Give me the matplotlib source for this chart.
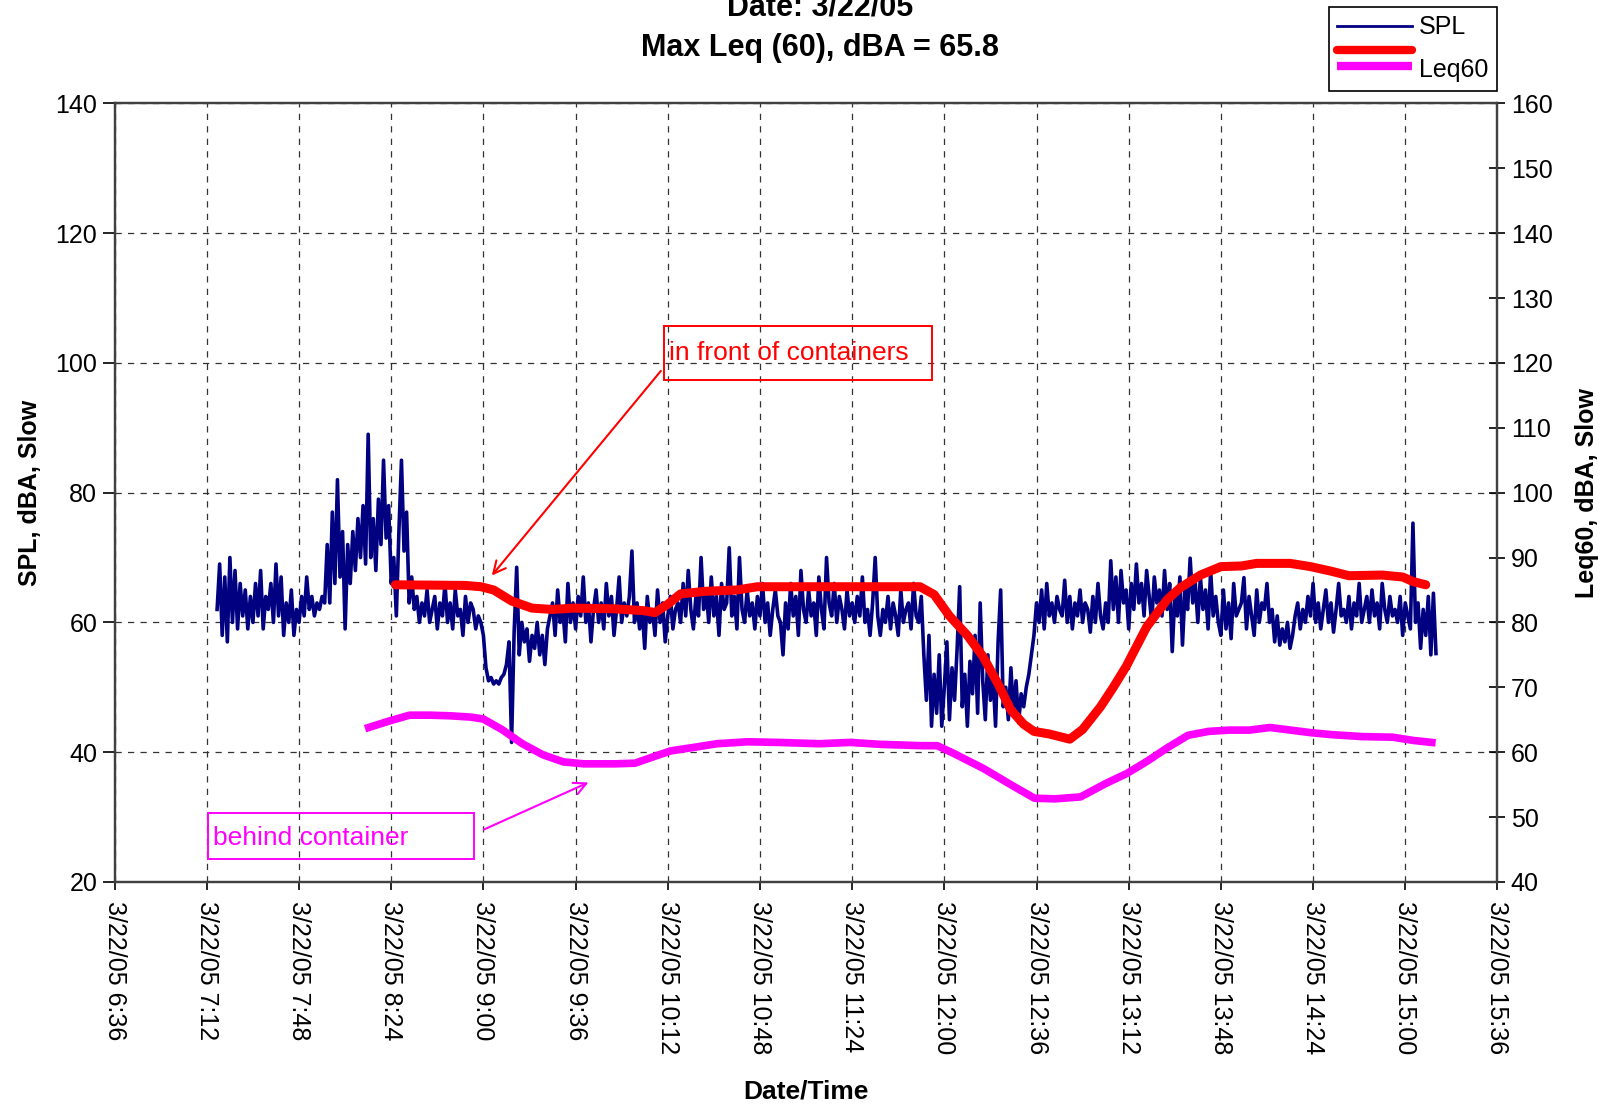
import numpy as np
import matplotlib
matplotlib.use('Agg')
import matplotlib.pyplot as plt
from matplotlib.lines import Line2D
from matplotlib.patches import Rectangle
from matplotlib.legend_handler import HandlerBase

plt.rcParams['font.family'] = ['Liberation Sans', 'DejaVu Sans']

# time axis: minutes after 6:36 on 3/22/05
tick_labels = ['3/22/05 6:36', '3/22/05 7:12', '3/22/05 7:48', '3/22/05 8:24',
               '3/22/05 9:00', '3/22/05 9:36', '3/22/05 10:12', '3/22/05 10:48',
               '3/22/05 11:24', '3/22/05 12:00', '3/22/05 12:36', '3/22/05 13:12',
               '3/22/05 13:48', '3/22/05 14:24', '3/22/05 15:00', '3/22/05 15:36']
tick_minutes = [36 * i for i in range(len(tick_labels))]

# SPL, one reading per minute starting at minute 40 (7:16)
spl_start = 40
spl = [
    62, 69, 58, 67, 57, 70, 60, 68, 59, 66,
    61, 65, 59, 64, 60, 66, 61, 68, 59, 64,
    62, 66, 60, 69, 61, 67, 58, 63, 60, 65,
    58, 62, 60, 64, 61, 67, 62, 64, 61, 63,
    62, 64, 63, 72, 63, 77, 66, 82, 67, 74,
    59, 72, 66, 74, 68, 76, 70, 78, 69, 89,
    70, 76, 68, 79, 72, 85, 73, 78, 66, 70,
    61, 74, 85, 71, 77, 63, 67, 62, 64, 60,
    63, 61, 65, 60, 62, 64, 59, 63, 61, 66,
    60, 63, 59, 65, 61, 62, 58, 64, 60, 63,
    62, 59, 61, 60, 58, 53, 51, 51.5, 50.5, 51,
    50.5, 51.5, 52, 53.5, 57, 41.5, 58.5, 68.5, 55, 60,
    57, 59, 54, 58, 56, 60, 55, 58, 53.5, 59,
    61, 63, 58, 65, 60, 62, 57, 66, 60, 63,
    59, 64, 61, 67, 60, 63, 57, 62, 65, 60,
    63, 59, 66, 61, 64, 58, 62, 67, 60, 63,
    61, 64, 71, 60, 63, 59, 62, 56, 64, 60,
    62, 58, 65, 60, 63, 57, 61, 64, 59, 62,
    63, 60, 66, 61, 68, 62, 59, 64, 61, 70,
    62, 65, 60, 67, 61, 64, 58, 66, 62, 63,
    71.5, 61, 64, 59, 70, 62, 60, 65, 61, 63,
    59, 64, 61, 66, 60, 63, 58, 62, 65, 61,
    60, 55, 63, 59, 66, 61, 64, 58, 68, 62,
    60, 65, 61, 63, 58, 67, 62, 59, 70, 63,
    61, 66, 60, 64, 62, 59, 65, 61, 63, 60,
    64, 61, 67, 60, 62, 58, 63, 70, 61, 58,
    62, 60, 64, 59, 63, 61, 58, 65, 60, 62,
    63, 59, 66, 61, 60, 64, 55, 48, 58, 44,
    52, 46, 55, 44, 50, 57, 45, 53, 48, 56,
    65.5, 47, 52, 44, 54, 49, 58, 46, 63, 51,
    45, 55, 48, 52, 44, 57, 65, 47, 50, 45,
    53, 46, 51, 44.5, 49, 47, 50, 52, 55, 58,
    63, 60, 65, 59, 66, 61, 63, 60, 64, 62,
    61, 66.5, 60, 64, 59, 63, 61, 65, 60, 63,
    62, 58.5, 64, 60, 66, 61, 59, 63, 60, 69.5,
    62, 67, 60, 68, 63, 65, 59, 66, 62, 69,
    63, 66, 61, 68, 64, 60, 67, 63, 65, 61,
    68, 62, 66, 55.5, 64, 61, 67, 56.5, 65, 62,
    69.9, 63, 66, 60, 67, 62, 65, 59, 68, 61,
    64, 60, 58, 65, 59, 63, 57.5, 66, 61, 62,
    63, 66.9, 59, 64, 61, 58, 65, 60, 63, 62,
    66, 60, 62, 57, 61, 56.5, 59, 57, 60, 56,
    58, 61, 63, 59, 62, 60, 64, 61, 66, 60,
    63, 59, 62, 65, 60, 63, 58.5, 62, 66, 61,
    62, 60, 64, 59, 63, 61, 66, 60, 62, 64,
    60, 65, 61, 63, 59, 66, 62, 60, 64, 61,
    62, 60, 64, 58, 63, 61, 59, 75.3, 60, 63,
    56, 62, 58, 64, 55, 64.5, 55.2,
]
spl_t = spl_start + np.arange(len(spl))

# red curve (left axis)
red_t = [109.6, 137, 143, 148, 155, 163, 171, 179, 195, 207, 211, 216, 221, 231,
         243, 251, 275, 314.5, 320, 326, 333, 339, 345, 350, 355, 359, 365, 373,
         378, 385, 390, 395, 403, 411, 416, 424, 432, 440, 446, 459, 467, 475,
         482, 495, 503, 507, 512]
red_v = [65.8, 65.7, 65.5, 65.0, 63.3, 62.2, 62.0, 62.2, 62.1, 61.8, 61.5, 62.8, 64.4, 64.8,
         65.0, 65.5, 65.5, 65.5, 64.3, 61.0, 58.0, 54.8, 50.5, 46.5, 44.3, 43.2, 42.8, 42.0,
         43.5, 47.0, 50.0, 53.2, 59.3, 63.5, 65.3, 67.3, 68.6, 68.7, 69.1, 69.1, 68.6, 67.9,
         67.2, 67.3, 67.0, 66.3, 65.8]

# Leq60 (right axis)
leq_t = [99.2, 107.2, 115.2, 123.2, 131.2, 139.2, 144, 151.2, 159.2, 167.2, 175.2, 183.2,
         195.2, 203.2, 211.2, 217.2, 227.2, 235.2, 247.2, 259.2, 275.2, 287.2, 299.2, 315.2,
         321.2, 327.2, 339.2, 351.2, 359.2, 367.2, 377.2, 387.2, 395.2, 403.2, 411.2, 419.2,
         427.2, 435.2, 443.2, 451.2, 459.2, 467.2, 475.2, 487.2, 499.2, 507.2, 514.4]
leq_v = [63.8, 64.8, 65.7, 65.7, 65.6, 65.4, 65.1, 63.5, 61.3, 59.6, 58.5, 58.2,
         58.2, 58.3, 59.4, 60.2, 60.8, 61.3, 61.6, 61.5, 61.3, 61.5, 61.2, 61.0,
         61.0, 59.9, 57.5, 54.7, 52.9, 52.8, 53.1, 55.2, 56.7, 58.6, 60.7, 62.6,
         63.2, 63.4, 63.4, 63.8, 63.4, 63.0, 62.7, 62.4, 62.3, 61.8, 61.5]


class StackedLines(HandlerBase):
    # red and magenta keys drawn one above the other in a single legend row
    def create_artists(self, legend, orig_handle, xdescent, ydescent,
                       width, height, fontsize, trans):
        y0 = (height - ydescent) / 2.0
        out = []
        for ln, dy in zip(orig_handle, (0.75, 0.1)):
            a = Line2D([-xdescent, -xdescent + width], [y0 + dy * fontsize] * 2,
                       color=ln.get_color(), lw=ln.get_linewidth(),
                       solid_capstyle=ln.get_solid_capstyle())
            a.set_transform(trans)
            out.append(a)
        return out


fig = plt.figure(figsize=(16.06, 11.05), dpi=100)
ax = fig.add_axes([0.0714, 0.2019, 0.8610, 0.7045])
ax2 = ax.twinx()

ax.plot(spl_t, spl, color='#000080', lw=2.6, zorder=3)
ax.plot(red_t, red_v, color='#ff0000', lw=6.5, solid_capstyle='round', zorder=4)
ax2.plot(leq_t, leq_v, color='#ff00ff', lw=5.5)

ax.set_xlim(0, 540)
ax.set_ylim(20, 140)
ax.set_yticks(range(20, 141, 20))
ax2.set_ylim(40, 160)
ax2.set_yticks(range(40, 161, 10))
ax.set_xticks(tick_minutes)
ax.set_xticklabels(tick_labels, rotation=-90, fontsize=18, va='top', ha='center')
ax.tick_params(axis='y', labelsize=18, direction='out', length=9, width=1.2)
ax.tick_params(axis='x', direction='out', length=6, width=1.2, pad=8)
ax2.tick_params(axis='y', labelsize=18, direction='inout', length=12, width=1.2)

ax.grid(True, color='#333333', linestyle=(0, (5, 5)), lw=0.9)
for a in (ax, ax2):
    for s in a.spines.values():
        s.set_color('#404040')
        s.set_linewidth(1.6)

ax.set_xlabel('Date/Time', fontsize=19, fontweight='bold', labelpad=18)
ax.set_ylabel('SPL, dBA, Slow', fontsize=18, fontweight='bold', labelpad=10)
ax2.set_ylabel('Leq60, dBA, Slow', fontsize=18, fontweight='bold', labelpad=16)

# annotations
ax.add_patch(Rectangle((214.4, 97.4), 104.8, 8.3, fill=False, edgecolor='#ff0000', lw=1.4, zorder=5))
ax.text(216.4, 101.6, 'in front of containers', color='#ff0000', fontsize=19,
        va='center', ha='left', zorder=6)
ax.annotate('', xy=(146.6, 66.9), xytext=(214, 99.1),
            arrowprops=dict(arrowstyle='->', color='#ff0000', lw=1.5, mutation_scale=22))

ax.add_patch(Rectangle((36.4, 23.6), 104.0, 7.0, fill=False, edgecolor='#ff00ff', lw=1.4, zorder=5))
ax.text(38.4, 26.8, 'behind container', color='#ff00ff', fontsize=19,
        va='center', ha='left', zorder=6)
ax.annotate('', xy=(186, 35.5), xytext=(143.2, 27.9),
            arrowprops=dict(arrowstyle='->', color='#ff00ff', lw=1.5, mutation_scale=22))

# titles
fig.text(0.5106, 0.993, 'Date: 3/22/05', ha='center', va='center', fontsize=22, fontweight='bold')
fig.text(0.5106, 0.957, 'Max Leq (60), dBA = 65.8', ha='center', va='center', fontsize=22, fontweight='bold')

spl_key = Line2D([], [], color='#000080', lw=2)
red_key = Line2D([], [], color='#ff0000', lw=6, solid_capstyle='round')
leq_key = Line2D([], [], color='#ff00ff', lw=6, solid_capstyle='butt')
leg = fig.legend([spl_key, (red_key, leq_key)], ['SPL', 'Leq60'], loc='upper right',
                 handler_map={tuple: StackedLines()},
                 bbox_to_anchor=(0.932, 0.994), fontsize=18, frameon=True,
                 fancybox=False, framealpha=1, edgecolor='black',
                 handlelength=3.0, handletextpad=0.25,
                 labelspacing=0.75, borderpad=0.35, borderaxespad=0)
leg.get_frame().set_linewidth(1.2)

fig.savefig('out.png', dpi=100)
